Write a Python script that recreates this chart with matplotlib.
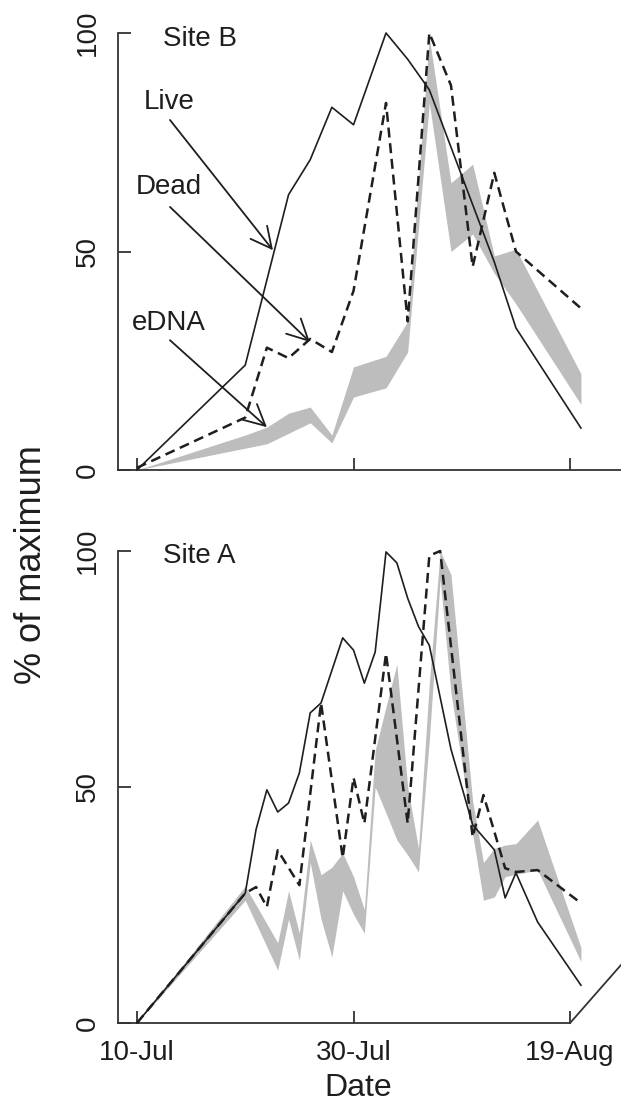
import matplotlib
matplotlib.use("Agg")
from matplotlib import pyplot as plt
from matplotlib.lines import Line2D

plt.rcParams['font.family'] = ['Liberation Sans', 'DejaVu Sans']

# Site B (top panel), x = days since 10-Jul
live_b_days = [0, 10, 14, 16, 18, 20, 23, 25, 27, 33, 35, 41]
live_b = [0, 24, 63, 71, 83, 79, 100, 94, 87, 47.6, 32.5, 9.6]
dead_b_days = [0, 10, 12, 14, 16, 18, 20, 23, 25, 27, 29, 31, 33, 35, 41]
dead_b = [0.5, 12, 28, 25.6, 30, 27, 41, 84, 34, 100, 88, 46.5, 68, 50, 37]
edna_b_days = [0, 10, 12, 14, 16, 18, 20, 23, 25, 27, 29, 31, 33, 35, 41]
edna_b_lo = [0, 5, 6, 8.4, 10.8, 6.2, 16.7, 18.8, 27, 84, 50, 54, 45, 38, 15]
edna_b_hi = [0, 8, 9.8, 13, 14.4, 8, 23.6, 26, 34, 99, 65.7, 70, 49, 50.5, 22]

# Site A (bottom panel)
live_a_days = [0, 10, 11, 12, 13, 14, 15, 16, 17, 19, 20, 21, 22, 23, 24, 25, 26,
               27, 29, 31, 33, 34, 35, 37, 41]
live_a = [0, 27.5, 41, 49.4, 44.7, 46.6, 53, 65.7, 67.8, 81.6, 79, 72, 78.6, 99.8,
          97.5, 90, 84, 80, 58, 42, 36.7, 26.5, 31.8, 21.4, 8]
dead_a_days = [0, 10, 11, 12, 13, 15, 17, 19, 20, 21, 23, 25, 27, 28, 31, 32, 34,
               35, 37, 41]
dead_a = [0, 27.5, 28.8, 24.6, 36.6, 29.2, 67.8, 35, 52, 42.3, 78.3, 42.3, 99, 100,
          39.4, 48.3, 32.8, 32, 32.4, 25.4]
edna_a_days = [0, 10, 13, 14, 15, 16, 17, 18, 19, 20, 21, 22, 23, 24, 25, 26, 27,
               28, 29, 31, 32, 33, 34, 35, 37, 41]
edna_a_lo = [0, 26, 11.2, 22, 13.3, 34, 22, 14, 28, 23, 19, 50, 44.5, 38.8, 35.6,
             32, 60, 94, 70, 40, 26, 26.7, 31, 31.5, 32.4, 13]
edna_a_hi = [0, 29, 17, 28, 19, 38.8, 31.4, 33, 36, 31, 24, 57.8, 67, 76, 50, 37,
             72, 100, 95, 47, 34, 37, 37.7, 38, 43, 16]

xticks = [0, 20, 40]
xticklabels = ['10-Jul', '30-Jul', '19-Aug']
yticks = [0, 50, 100]

W, H = 621, 1109
GRAY = '#bdbdbd'
AXC = '#333333'
INK = '#1e1e1e'
FS = 20


def style_axis(ax, ymax):
    ax.set_xlim(-1.75, 44.7)
    ax.set_ylim(0, ymax)
    ax.patch.set_alpha(0)
    for s in ['top', 'right']:
        ax.spines[s].set_visible(False)
    for s in ['left', 'bottom']:
        ax.spines[s].set_color(AXC)
        ax.spines[s].set_linewidth(1.3)
    ax.spines['left'].set_bounds(0, 100)
    ax.set_xticks(xticks)
    ax.set_yticks(yticks)
    ax.set_yticklabels([str(v) for v in yticks], rotation=90, va='center')
    ax.tick_params(direction='in', length=9, width=1.3, color=AXC,
                   labelsize=FS, labelcolor=INK, pad=12)


def draw_panel(ax, ld, lv, dd, dv, ed, elo, ehi):
    ax.fill_between(ed, elo, ehi, color=GRAY, lw=0, clip_on=False, zorder=1)
    ax.plot(ld, lv, color=INK, lw=1.2, clip_on=False, zorder=3)
    ax.plot(dd, dv, color=INK, lw=1.8, ls=(0, (4, 2.3)), clip_on=False, zorder=3)


fig = plt.figure(figsize=(W / 100, H / 100), dpi=100)

ax_b = fig.add_axes([118 / W, 1 - 470 / H, 503 / W, (470 - 15) / H])
style_axis(ax_b, (470 - 15) / 4.37)
ax_b.set_xticklabels([])
draw_panel(ax_b, live_b_days, live_b, dead_b_days, dead_b, edna_b_days, edna_b_lo, edna_b_hi)
ax_b.text(2.4, 98.6, 'Site B', fontsize=FS, ha='left', va='center', color=INK)

arrow = dict(arrowstyle='->,head_length=0.75,head_width=0.38', lw=1.3, color=INK,
             shrinkA=0, shrinkB=0, mutation_scale=20)
ax_b.annotate('', xy=(12.56, 50.3), xytext=(3.05, 80.1), arrowprops=arrow)
ax_b.annotate('', xy=(15.97, 29.3), xytext=(3.05, 60.2), arrowprops=arrow)
ax_b.annotate('', xy=(12.0, 9.8), xytext=(3.05, 29.7), arrowprops=arrow)
ax_b.text(2.95, 84.2, 'Live', fontsize=FS, ha='center', va='center', color=INK)
ax_b.text(2.95, 64.8, 'Dead', fontsize=FS, ha='center', va='center', color=INK)
ax_b.text(2.95, 33.6, 'eDNA', fontsize=FS, ha='center', va='center', color=INK)

ax_a = fig.add_axes([118 / W, 1 - 1023 / H, 503 / W, (1023 - 532) / H])
style_axis(ax_a, (1023 - 532) / 4.72)
ax_a.set_xticklabels(xticklabels)
ax_a.spines['bottom'].set_bounds(-1.75, 40)
draw_panel(ax_a, live_a_days, live_a, dead_a_days, dead_a, edna_a_days, edna_a_lo, edna_a_hi)
ax_a.text(2.4, 98.9, 'Site A', fontsize=FS, ha='left', va='center', color=INK)
# oblique axis stub at the lower right corner
ax_a.add_line(Line2D([40, 44.7], [0, 12.3], color=AXC, lw=1.3, clip_on=False))

fig.text(32 / W, 1 - 565 / H, '% of maximum', rotation=90, ha='center', va='center',
         fontsize=26, color=INK)
fig.text(358 / W, 1 - 1088 / H, 'Date', ha='center', va='center', fontsize=23,
         color=INK)

fig.savefig('out.png', dpi=100, facecolor='white')
